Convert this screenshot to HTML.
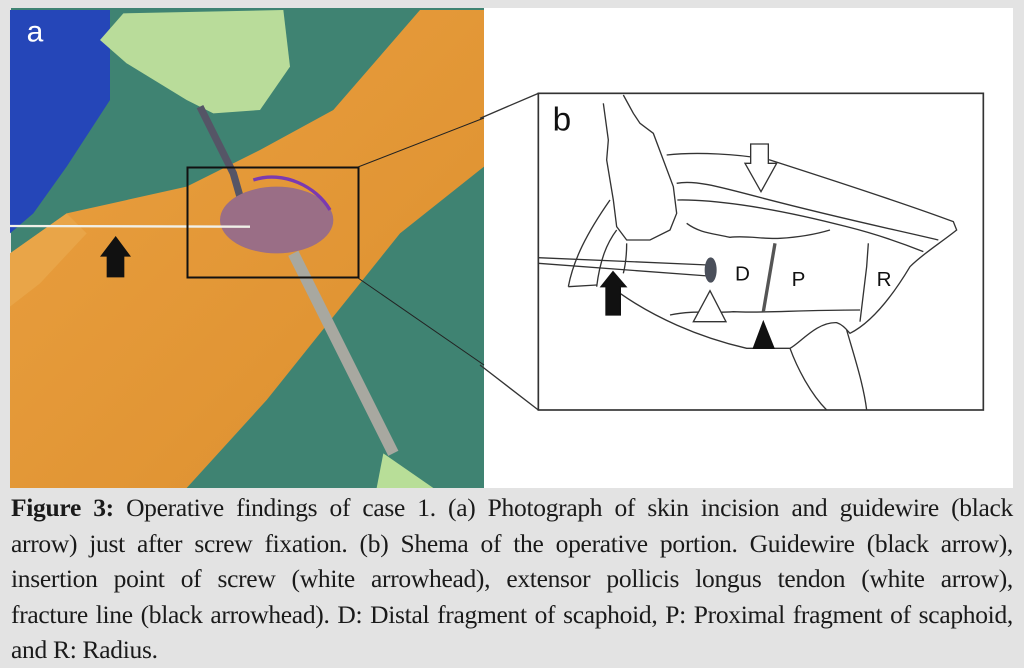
<!DOCTYPE html>
<html><head><meta charset="utf-8"><style>
html,body{margin:0;padding:0;width:1024px;height:668px;overflow:hidden;background:#e3e3e3;}
svg{position:absolute;left:0;top:0;}
.cap{position:absolute;left:11px;width:1002px;top:490px;font-family:"Liberation Serif",serif;font-size:25.5px;line-height:35.5px;color:#1a1a1a;letter-spacing:-0.3px;}
.cap div{white-space:nowrap;text-align:justify;text-align-last:justify;}
.cap div.l{text-align-last:left;}
</style></head><body>
<svg width="1024" height="668" viewBox="0 0 1024 668">
<defs>
<linearGradient id="sk" x1="0" y1="0" x2="1" y2="1"><stop offset="0" stop-color="#eaa040"/><stop offset="1" stop-color="#dc8f2e"/></linearGradient>
</defs>
<rect x="11" y="8" width="473" height="480" fill="#3f8372"/>
<g transform="scale(0.33333)">
<polygon points="30,30 330,30 330,300 200,500 100,640 30,700" fill="#2546b8"/>
<polygon points="30,760 200,640 560,560 780,450 1000,330 1260,30 1452,30 1452,500 1200,700 1000,950 800,1200 560,1464 30,1464" fill="url(#sk)"/>
<polygon points="30,760 200,640 260,700 120,850 30,920" fill="#e9a548"/>
<path d="M370,40 L850,30 L870,200 L780,330 L640,340 L560,300 L380,190 L300,120 Z" fill="#b9dc9a"/>
<path d="M600,320 L700,520 L720,590" stroke="#556" stroke-width="22" fill="none"/>
<ellipse cx="830" cy="660" rx="170" ry="100" fill="#9a6e86"/>
<path d="M760,540 C850,510 950,560 990,630" stroke="#7a3ab0" stroke-width="10" fill="none"/>
<path d="M880,760 L1180,1360" stroke="#a8a8a0" stroke-width="34" fill="none"/>
<path d="M1150,1360 L1300,1464 L1130,1464 Z" fill="#b8de98"/>
<line x1="30" y1="678" x2="750" y2="680" stroke="#f0f0e8" stroke-width="7"/>
<path d="M320,832 L320,770 L300,770 L347,708 L393,770 L373,770 L373,832 Z" fill="#111"/>
<text x="80" y="125" font-family="Liberation Sans,sans-serif" font-size="90" fill="#fff">a</text>
</g>
<rect x="187.5" y="167.5" width="171" height="110" fill="none" stroke="#111" stroke-width="2"/>
<rect x="484" y="8" width="529" height="480" fill="#fff"/>
<line x1="358" y1="167" x2="484" y2="118" stroke="#222" stroke-width="1"/>
<line x1="358" y1="278" x2="484" y2="365" stroke="#222" stroke-width="1"/>
<g transform="translate(480,0) scale(0.33333)" fill="none" stroke="#333" stroke-width="4">
<line x1="0" y1="355" x2="175" y2="280"/>
<line x1="0" y1="1095" x2="175" y2="1230"/>
<rect x="175" y="280" width="1335" height="950" stroke-width="5"/>
<path d="M370,310 L385,420 L380,480 L400,600 L410,680 L440,720 L510,720 L570,690 L590,640 L580,560 L550,480 L520,400 L480,370 L460,340 L430,285"/>
<path d="M265,860 C280,780 320,700 390,600"/>
<path d="M350,860 C360,780 380,730 410,690"/>
<path d="M440,730 C440,770 435,800 430,820"/>
<path d="M265,860 L350,855"/>
<path d="M420,880 C520,950 650,1010 800,1045 L930,1045 C960,1030 1010,965 1070,968 C1090,975 1100,990 1110,1000 C1170,970 1230,900 1290,800 C1330,760 1380,730 1430,690 L1420,665 C1300,620 1150,570 870,480 C780,462 650,455 560,465"/>
<path d="M930,1045 C950,1100 990,1180 1040,1230"/>
<path d="M1160,1230 C1150,1150 1120,1060 1100,990"/>
<path d="M590,550 C640,540 700,555 850,595 C1100,660 1250,690 1375,720"/>
<path d="M592,600 C680,598 850,615 1100,680 C1200,705 1280,735 1330,755"/>
<path d="M620,670 C660,700 700,700 750,712 C800,706 850,718 900,715 C950,712 1000,705 1050,690"/>
<path d="M570,945 C640,930 700,940 760,935 C850,940 950,930 1140,930"/>
<path d="M1165,730 L1160,800 L1140,965"/>
<line x1="885" y1="730" x2="850" y2="935" stroke="#555" stroke-width="10"/>
<path d="M175,773 L685,795 M175,790 L685,828"/>
<ellipse cx="692" cy="810" rx="18" ry="38" fill="#4a4f5a" stroke="none"/>
<path d="M378,945 L378,860 L363,860 L399,815 L438,860 L421,860 L421,945 Z" fill="#111" stroke="#111"/>
<path d="M690,872 L640,965 L738,965 Z" fill="#fff"/>
<path d="M850,965 L820,1045 L882,1045 Z" fill="#111" stroke="#111"/>
<path d="M812,432 L865,432 L865,490 L890,490 L843,575 L795,490 L812,490 Z" fill="#fff"/>
<g fill="#111" stroke="none" font-family="Liberation Sans,sans-serif">
<text x="218" y="392" font-size="100">b</text>
<text x="765" y="842" font-size="62">D</text>
<text x="935" y="858" font-size="62">P</text>
<text x="1190" y="858" font-size="62">R</text>
</g>
</g>
</svg>
<div class="cap">
<div><b>Figure 3:</b> Operative findings of case 1. (a) Photograph of skin incision and guidewire (black</div>
<div>arrow) just after screw fixation. (b) Shema of the operative portion. Guidewire (black arrow),</div>
<div>insertion point of screw (white arrowhead), extensor pollicis longus tendon (white arrow),</div>
<div>fracture line (black arrowhead). D: Distal fragment of scaphoid, P: Proximal fragment of scaphoid,</div>
<div class="l">and R: Radius.</div>
</div>
</body></html>
